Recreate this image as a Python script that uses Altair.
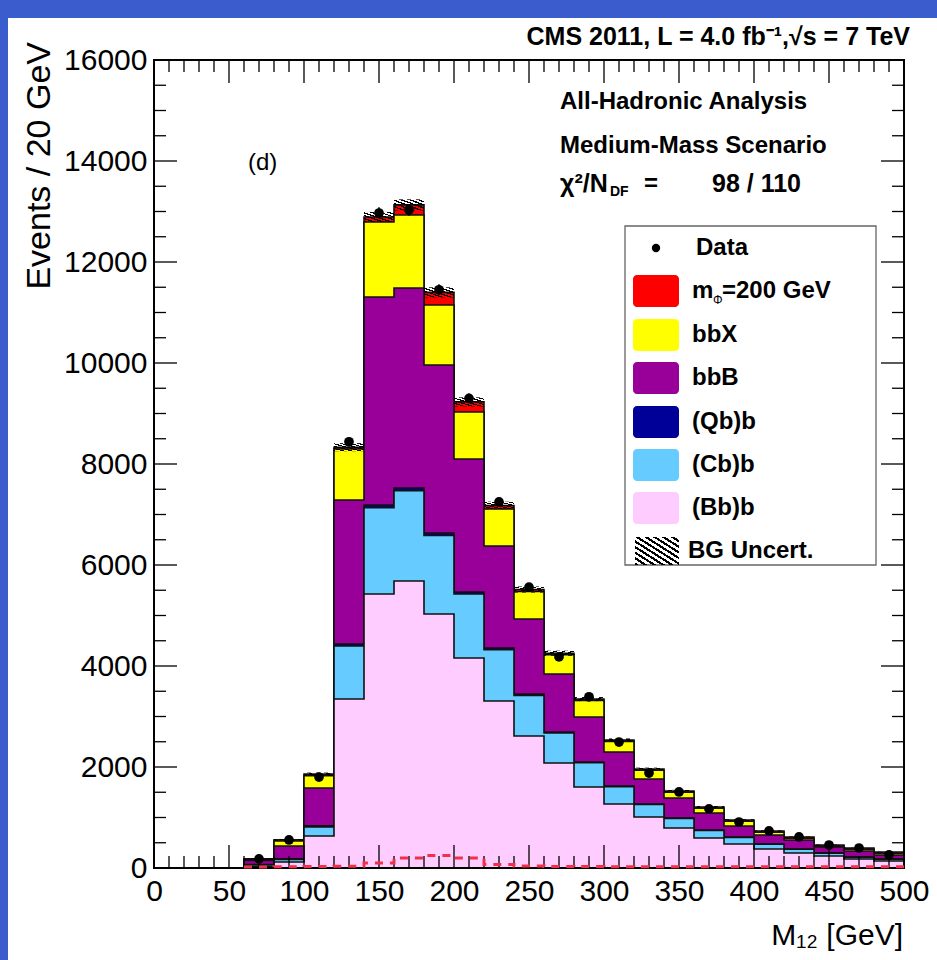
import altair as alt
import pandas as pd

# ---------------- data ----------------
bin_lo = [60, 80, 100, 120, 140, 160, 180, 200, 220, 240, 260,
          280, 300, 320, 340, 360, 380, 400, 420, 440, 460, 480]
bin_width = 20
x_end = 500

bb_b = [30, 120, 634, 3347, 5426, 5683, 5030, 4158, 3307, 2614, 2079,
        1604, 1267, 1010, 792, 594, 475, 376, 297, 238, 178, 139]          # (Bb)b
cb_b = [30, 50, 180, 1050, 1710, 1790, 1554, 1267, 1015, 805, 594,
        480, 345, 247, 190, 150, 132, 94, 75, 56, 37, 36]                   # (Cb)b
qb_b = [10, 10, 20, 40, 52, 52, 50, 40, 34, 27, 20,
        15, 12, 10, 8, 8, 7, 5, 4, 3, 3, 3]                                 # (Qb)b
bbB = [80, 256, 750, 2851, 4119, 3960, 3326, 2634, 2020, 1485, 1149,
       891, 673, 495, 396, 337, 218, 178, 178, 119, 119, 79]                # bbB
bbX = [10, 99, 245, 1010, 1485, 1446, 1189, 931, 733, 544, 381,
       327, 210, 174, 114, 94, 94, 55, 36, 16, 35, 36]                      # bbX
signal = [20, 25, 30, 35, 100, 200, 250, 200, 70, 40, 30,
          28, 26, 25, 25, 25, 25, 25, 24, 24, 24, 24]                       # m_Phi = 200 GeV
data_counts = [180, 555, 1800, 8440, 12970, 13030, 11450, 9300, 7250, 5560, 4180,
               3390, 2495, 1880, 1505, 1170, 910, 735, 615, 455, 395, 260]
bg_unc = [10, 15, 30, 80, 100, 110, 100, 90, 75, 60, 50,
          40, 32, 26, 22, 18, 15, 12, 10, 8, 7, 6]

series_names = ["(Bb)b", "(Cb)b", "(Qb)b", "bbB", "bbX", "m_Phi=200 GeV"]
series_colors = ["#ffccff", "#66ccff", "#000099", "#990099", "#ffff00", "#ff0000"]
components = [bb_b, cb_b, qb_b, bbB, bbX, signal]

x_labels = list(range(0, 501, 50))
x_minor = list(range(0, 501, 10))
y_labels = list(range(0, 16001, 2000))
y_minor = list(range(0, 16001, 500))

# ---------------- layout / style ----------------
W, H = 750, 808
PAD = {"left": 154, "top": 60, "right": 33, "bottom": 92}
FONT = "Liberation Sans"
BLUE = "#3a5ccc"
OUTLINE = "#111111"

xs = alt.Scale(domain=[0, 500], nice=False, zero=False)
ys = alt.Scale(domain=[0, 16000], nice=False)
xaxis = alt.Axis(values=x_labels, ticks=False, domain=False, grid=False, format="d",
                 labelFontSize=30, labelFont=FONT, labelColor="black",
                 labelPadding=8, labelFlush=False, title=None, zindex=2)
yaxis = alt.Axis(values=y_labels, ticks=False, domain=False, grid=False, format="d",
                 labelFontSize=30, labelFont=FONT, labelColor="black",
                 labelPadding=7, title=None, zindex=2)


def X(f):
    return alt.X(f, scale=xs, axis=xaxis)


def Y(f):
    return alt.Y(f, scale=ys, axis=yaxis)


dummy = pd.DataFrame({"d": [0]})


def txt(s, x, y, size=24, bold=True, align="left", baseline="middle", angle=0):
    kw = dict(text=s, fontSize=size, font=FONT, align=align, baseline=baseline,
              color="black", fontWeight="bold" if bold else "normal")
    if angle:
        kw["angle"] = angle
    return alt.Chart(dummy).mark_text(**kw).encode(x=alt.value(x), y=alt.value(y))


def stripes(n):
    stops = []
    for j in range(n):
        stops += [alt.GradientStop(offset=j / n, color="#000000"),
                  alt.GradientStop(offset=(j + 0.45) / n, color="#000000"),
                  alt.GradientStop(offset=(j + 0.45) / n, color="rgba(0,0,0,0)"),
                  alt.GradientStop(offset=(j + 1) / n, color="rgba(0,0,0,0)")]
    return alt.LinearGradient(gradient="linear", stops=stops, x1=0, y1=1, x2=1, y2=0)


layers = []

# white page on blue border
layers.append(alt.Chart(dummy).mark_rect(color="white").encode(
    x=alt.value(8 - PAD["left"]), x2=alt.value(W + PAD["right"] + 5),
    y=alt.value(18 - PAD["top"]), y2=alt.value(H + PAD["bottom"] + 5)))

# cumulative stack
cum = []
run = [0] * len(bin_lo)
for comp in components:
    run = [a + b for a, b in zip(run, comp)]
    cum.append(run)

for k in range(len(components) - 1, -1, -1):
    tops = cum[k]
    df_area = pd.DataFrame({"x": bin_lo + [x_end], "y": tops + [tops[-1]]})
    layers.append(alt.Chart(df_area).mark_area(
        color=series_colors[k], interpolate="step-after", opacity=1).encode(x=X("x:Q"), y=Y("y:Q")))
    df_line = pd.DataFrame({
        "x": [bin_lo[0]] + bin_lo + [x_end, x_end],
        "y": [0] + tops + [tops[-1], 0]})
    df_line["i"] = range(len(df_line))
    layers.append(alt.Chart(df_line).mark_line(
        color=OUTLINE, strokeWidth=1.6, interpolate="step-after").encode(
        x=X("x:Q"), y=Y("y:Q"), order="i:Q"))

# background uncertainty (hatched)
total = cum[-1]
df_unc = pd.DataFrame({
    "x": bin_lo, "x2": [b + bin_width for b in bin_lo],
    "lo": [t - u for t, u in zip(total, bg_unc)],
    "hi": [t + u for t, u in zip(total, bg_unc)]})
layers.append(alt.Chart(df_unc).mark_rect(fill=stripes(7)).encode(
    x=X("x:Q"), x2="x2:Q", y=Y("lo:Q"), y2="hi:Q"))

# data points
df_data = pd.DataFrame({"x": [b + bin_width / 2 for b in bin_lo], "y": data_counts})
df_data["lo"] = df_data["y"] - df_data["y"] ** 0.5
df_data["hi"] = df_data["y"] + df_data["y"] ** 0.5
layers.append(alt.Chart(df_data).mark_rule(color="black", strokeWidth=1.5).encode(
    x=X("x:Q"), y=Y("lo:Q"), y2="hi:Q"))
layers.append(alt.Chart(df_data).mark_circle(color="black", size=95, opacity=1).encode(
    x=X("x:Q"), y=Y("y:Q")))

# ticks (inward, on all four sides)
MAJ, MIN = 23, 12
dfx_maj = pd.DataFrame({"v": x_labels})
dfx_min = pd.DataFrame({"v": [v for v in x_minor if v not in x_labels]})
dfy_maj = pd.DataFrame({"v": y_labels})
dfy_min = pd.DataFrame({"v": [v for v in y_minor if v not in y_labels]})
for dfx, L in ((dfx_maj, MAJ), (dfx_min, MIN)):
    layers.append(alt.Chart(dfx).mark_rule(color="black", strokeWidth=1.3).encode(
        x=X("v:Q"), y=alt.value(H), y2=alt.value(H - L)))
    layers.append(alt.Chart(dfx).mark_rule(color="black", strokeWidth=1.3).encode(
        x=X("v:Q"), y=alt.value(0), y2=alt.value(L)))
for dfy, L in ((dfy_maj, MAJ), (dfy_min, MIN)):
    layers.append(alt.Chart(dfy).mark_rule(color="black", strokeWidth=1.3).encode(
        y=Y("v:Q"), x=alt.value(0), x2=alt.value(L)))
    layers.append(alt.Chart(dfy).mark_rule(color="black", strokeWidth=1.3).encode(
        y=Y("v:Q"), x=alt.value(W), x2=alt.value(W - L)))

# frame
layers.append(alt.Chart(dummy).mark_rect(filled=False, stroke="black", strokeWidth=2).encode(
    x=alt.value(0), x2=alt.value(W), y=alt.value(0), y2=alt.value(H)))

# signal alone, dashed (drawn on top)
df_sig = pd.DataFrame({"x": bin_lo + [x_end], "y": signal + [signal[-1]]})
layers.append(alt.Chart(df_sig).mark_line(
    color="#f0304a", strokeWidth=3, strokeDash=[8, 7], interpolate="step-after").encode(
    x=X("x:Q"), y=Y("y:Q")))

# legend
LX0, LX1, LY0, LY1 = 471, 722, 166, 505
layers.append(alt.Chart(dummy).mark_rect(fill="white", stroke="#666666", strokeWidth=1.3).encode(
    x=alt.value(LX0), x2=alt.value(LX1), y=alt.value(LY0), y2=alt.value(LY1)))
SW0, SW1, TX = 479, 525, 538
row_y = [188, 231, 275, 318, 362, 405, 448, 491]
layers.append(alt.Chart(dummy).mark_circle(color="black", size=70, opacity=1).encode(
    x=alt.value((SW0 + SW1) / 2), y=alt.value(row_y[0])))
layers.append(txt("Data", TX + 4, row_y[0]))
legend_order = [5, 4, 3, 2, 1, 0]
for r, k in enumerate(legend_order, start=1):
    yc = row_y[r]
    layers.append(alt.Chart(dummy).mark_rect(color=series_colors[k], cornerRadius=4).encode(
        x=alt.value(SW0), x2=alt.value(SW1), y=alt.value(yc - 16), y2=alt.value(yc + 16)))
    if k == 5:
        layers.append(txt("m", TX, yc))
        layers.append(txt("Φ", TX + 21, yc + 9, size=12, bold=False))
        layers.append(txt("=200 GeV", TX + 30, yc))
    else:
        layers.append(txt(series_names[k], TX, yc))
layers.append(alt.Chart(dummy).mark_rect(fill=stripes(10)).encode(
    x=alt.value(SW0 + 2), x2=alt.value(SW1), y=alt.value(row_y[7] - 14), y2=alt.value(row_y[7] + 14)))
layers.append(txt("BG Uncert.", TX - 4, row_y[7]))

# annotations
layers.append(txt("CMS 2011, L = 4.0  fb⁻¹,√s = 7 TeV", 756, -23, size=25, align="right"))
layers.append(txt("All-Hadronic Analysis", 406, 42))
layers.append(txt("Medium-Mass Scenario", 406, 86))
layers.append(txt("χ²/N", 406, 124, size=25))
layers.append(txt("DF", 456, 132, size=14))
layers.append(txt("=", 490, 124))
layers.append(txt("98 / 110", 558, 124, size=25))
layers.append(txt("(d)", 94, 103, bold=False))
layers.append(txt("Events / 20 GeV", -114, -18, size=34, bold=False, align="right", angle=270))
layers.append(txt("M₁₂ [GeV]", 749, 885, size=30, bold=False, align="right", baseline="alphabetic"))

chart = alt.layer(*layers).properties(
    width=W, height=H, background=BLUE, padding=PAD,
    autosize=alt.AutoSizeParams(type="none"),
).configure_view(stroke=None)

chart.save("out.html", embed_options={"renderer": "svg", "actions": False})
